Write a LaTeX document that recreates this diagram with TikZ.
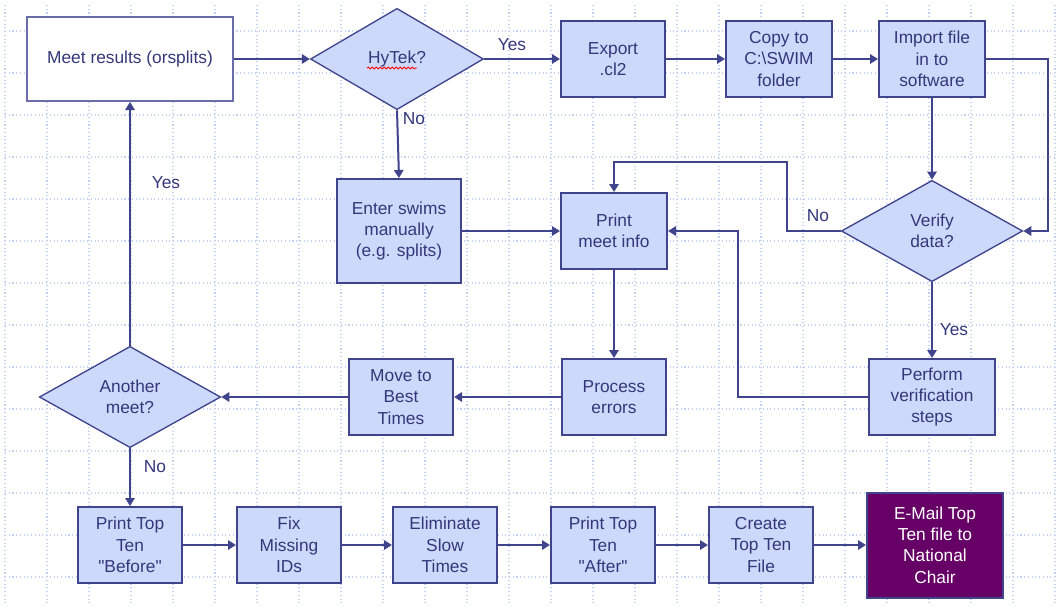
\documentclass[tikz,border=0pt]{standalone}
\usepackage{fontspec}
\setmainfont{Liberation Sans}[Ligatures=TeXOff]
\usetikzlibrary{positioning}
\usetikzlibrary{arrows.meta}
\usetikzlibrary{shapes.geometric,calc}
\usetikzlibrary{decorations.pathmorphing}

\definecolor{flowline}{RGB}{64,68,140}
\definecolor{flowfill}{RGB}{204,217,250}
\definecolor{flowtext}{RGB}{52,56,122}
\definecolor{gridblue}{RGB}{196,210,245}
\definecolor{startline}{RGB}{104,108,170}
\definecolor{mailpurple}{RGB}{102,0,102}

\begin{document}
\begin{tikzpicture}[x=0.75pt,y=-0.75pt,
		every node/.style={font=\fontsize{13}{16}\selectfont,text=flowtext},
		stepbox/.style={rectangle,draw=flowline,line width=1.5pt,fill=flowfill,align=center,inner sep=0pt,minimum width=78pt,minimum height=57pt},
		askbox/.style={diamond,draw=flowline,line width=1pt,fill=flowfill,align=center,inner sep=0pt,minimum width=136pt,minimum height=76pt},
		flow/.style={draw=flowline,line width=1.5pt,-{Triangle[length=6pt,width=7pt]}},
		lbl/.style={inner sep=0pt}]
		\useasboundingbox (0,0) rectangle (1059,610);
		\fill[white] (0,0) rectangle (1059,610);
		
		% dotted grid behind everything
		\foreach \gx in {5,47,...,1055}
			\draw[gridblue,dotted,line width=0.8pt] (\gx,5) -- (\gx,605);
		\foreach \gy in {31,73,...,577}
			\draw[gridblue,dotted,line width=0.8pt] (5,\gy) -- (1055,\gy);
		
		% top row
		\node[stepbox,fill=white,draw=startline,minimum width=154.5pt,minimum height=63pt] (meet) at (130,59) {Meet results (orsplits)};
		\node[askbox,minimum width=129.75pt] (hytek) at (397,59) {HyTek?};
		\node[stepbox] (export) at (613,59) {Export\\.cl2};
		\node[stepbox,minimum width=79.5pt] (copy) at (779,59) {Copy to\\C:\textbackslash SWIM\\folder};
		\node[stepbox,minimum width=79.5pt] (import) at (932,59) {Import file\\in to\\software};
		
		% middle rows
		\node[stepbox,minimum width=93pt,minimum height=78pt] (enter) at (399,231) {Enter swims\\manually\\(e.g. splits)};
		\node[stepbox,minimum width=79.5pt] (print) at (614,231) {Print\\meet info};
		\node[askbox] (verify) at (932,231) {Verify\\data?};
		\node[askbox] (another) at (130,397) {Another\\meet?};
		\node[stepbox] (move) at (401,397) {Move to\\Best\\Times};
		\node[stepbox] (process) at (614,397) {Process\\errors};
		\node[stepbox,minimum width=94.5pt] (perform) at (932,397) {Perform\\verification\\steps};
		
		% bottom row
		\node[stepbox] (before) at (130,545) {Print Top\\Ten\\"Before"};
		\node[stepbox] (fix) at (289,545) {Fix\\Missing\\IDs};
		\node[stepbox] (elim) at (445,545) {Eliminate\\Slow\\Times};
		\node[stepbox] (after) at (603,545) {Print Top\\Ten\\"After"};
		\node[stepbox] (create) at (761,545) {Create\\Top Ten\\File};
		\node[stepbox,fill=mailpurple,text=white,minimum width=102pt,minimum height=78.75pt] (email) at (935,545) {E-Mail Top\\Ten file to\\National\\Chair};
		
		% spell checker squiggle
		\draw[red,line width=0.6pt,decorate,decoration={snake,amplitude=0.7pt,segment length=3pt}] ($(hytek)+(-30,9)$) -- ($(hytek)+(20,9)$);
		
		\coordinate (importturn) at (1048,59);
		\coordinate (noturn) at (787,162);
		\coordinate (backturn) at (738,397);
		
		\draw[flow] (meet.east) -- (hytek.west);
		\draw[flow] (hytek.east) -- (export.west);
		\draw[flow] (export.east) -- (copy.west);
		\draw[flow] (copy.east) -- (import.west);
		\draw[flow] (import.east) -- (importturn) |- (verify.east);
		\draw[flow] (import.south) -- (verify.north);
		\draw[flow] (verify.west) -| (noturn) -| (print.north);
		\draw[flow] (hytek.south) -- (enter.north);
		\draw[flow] (enter.east) -- (print.west);
		\draw[flow] (verify.south) -- (perform.north);
		\draw[flow] (perform.west) -- (backturn) |- (print.east);
		\draw[flow] (print.south) -- (process.north);
		\draw[flow] (process.west) -- (move.east);
		\draw[flow] (move.west) -- (another.east);
		\draw[flow] (another.north) -- (meet.south);
		\draw[flow] (another.south) -- (before.north);
		\draw[flow] (before.east) -- (fix.west);
		\draw[flow] (fix.east) -- (elim.west);
		\draw[flow] (elim.east) -- (after.west);
		\draw[flow] (after.east) -- (create.west);
		\draw[flow] (create.east) -- (email.west);
		
		\node[lbl] (yeshytek) at (512,45) {Yes};
		\node[lbl] (nohytek) at (414,119) {No};
		\node[lbl] (noverify) at (818,216) {No};
		\node[lbl] (yesverify) at (954,330) {Yes};
		\node[lbl] (yesanother) at (166,183) {Yes};
		\node[lbl] (noanother) at (155,467) {No};
	\end{tikzpicture}
\end{document}
